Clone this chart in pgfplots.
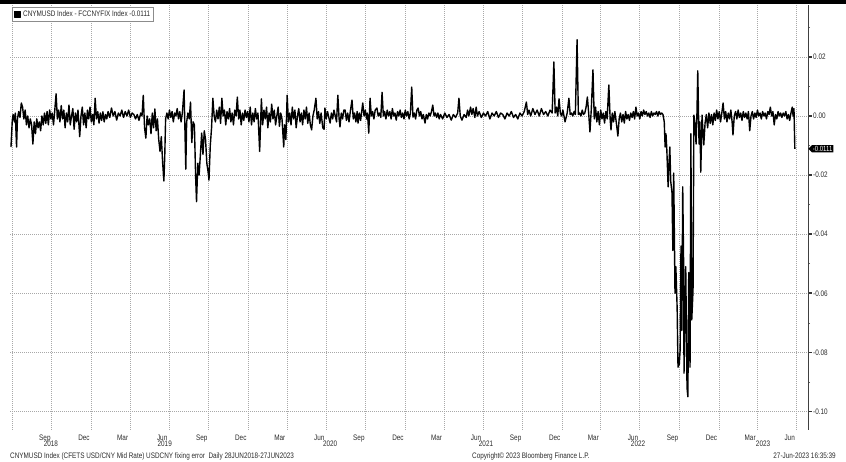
\documentclass[border=0pt]{standalone}
\usepackage{fontspec}
\setmainfont{Liberation Sans}[FakeStretch=0.8]
\usepackage{pgfplots}
\pgfplotsset{compat=1.18}
\usepackage{pgfplotstable}
\usetikzlibrary{shapes.symbols}
\definecolor{txt}{HTML}{2B2B2B}
\definecolor{grd}{HTML}{A8A8A8}

% d = days since 28 Jun 2018, v = CNYMUSD - FCCNYFIX
\pgfplotstableread{
d v
0 -0.0105
3 -0.0015
5 0.0005
8 -0.002
10 0.001
13 -0.0105
15 -0.001
18 0.0015
21 -0.0005
24 0.0044
27 0.003
30 -0.001
33 0.002
36 -0.003
39 0
42 -0.004
45 -0.001
48 -0.003
51 -0.0095
54 -0.002
57 -0.006
60 -0.001
63 -0.004
66 -0.002
69 -0.005
72 0
75 -0.003
78 0.001
81 -0.0025
84 0.0015
87 -0.003
90 0.002
93 -0.001
96 0.001
99 -0.003
102 0.002
105 0.0075
108 -0.001
111 0.002
114 -0.002
117 0.0035
120 -0.001
123 0.002
126 -0.004
129 0.001
132 -0.002
135 0.0037
138 -0.003
141 0
144 0.0025
147 -0.0045
150 0.001
153 -0.002
156 0.002
160 -0.007
163 0
166 0.003
169 -0.003
172 0.001
175 -0.004
178 0.002
181 -0.001
184 0.003
187 -0.002
190 0.0005
193 -0.003
196 0.006
199 -0.001
202 0.0015
205 -0.0024
208 0.001
211 -0.0015
214 0.0014
217 -0.002
220 0.0005
223 -0.001
226 0.0015
230 -0.0005
234 0.0027
238 0
242 0.0015
246 -0.0014
250 0.001
254 0
258 0.002
262 -0.0005
266 0.0015
270 0
274 0.002
278 -0.0005
282 0.001
286 0.0005
290 -0.001
294 0.0005
298 -0.0015
302 0.001
305 0
308 0.007
311 -0.004
314 -0.0075
317 0
320 -0.003
323 -0.001
326 -0.006
329 0.001
332 -0.004
335 0.0024
338 -0.005
341 -0.001
344 -0.008
347 -0.012
350 -0.007
353 -0.0156
356 -0.022
358 -0.0136
360 -0.001
363 0.001
366 -0.001
369 0.002
372 -0.0005
375 0.0015
378 -0.002
381 0.001
384 0
387 0.0025
390 -0.001
393 0.0015
396 -0.002
399 0.001
403 0.0088
407 -0.018
409 -0.002
412 0.001
415 -0.001
418 0.0047
421 -0.009
424 -0.002
427 -0.003
430 -0.021
432 -0.029
435 -0.016
438 -0.02
441 -0.013
444 -0.0058
447 -0.013
450 -0.005
453 -0.008
456 -0.016
459 -0.019
461 -0.0217
464 -0.01
467 -0.004
470 0.006
473 0
476 -0.002
479 0.002
482 -0.001
485 0.003
488 -0.0025
491 0.006
494 0
497 0.002
500 -0.003
503 0.0015
506 -0.001
509 0.0025
512 -0.002
515 0.001
518 -0.003
521 0.002
524 0
527 0.0064
530 -0.001
533 0.002
536 -0.003
539 0.001
542 -0.0015
545 0.002
548 -0.0005
551 0.0015
554 -0.002
557 0.003
560 -0.003
563 0.001
566 -0.002
569 0.0025
572 -0.001
575 0.001
579 -0.012
583 0.0058
586 -0.003
589 0.002
592 -0.001
595 0.003
598 -0.004
601 0.001
604 -0.002
607 0.004
610 -0.001
613 0.002
616 -0.003
619 0
622 0.003
625 -0.0035
628 0.001
631 -0.001
635 -0.0105
637 -0.003
640 -0.008
643 0.007
646 -0.002
649 0.001
652 -0.003
655 0.003
658 -0.001
661 0.002
664 -0.004
667 0
670 0.0025
673 -0.002
676 0.001
679 -0.003
682 0.002
685 -0.001
688 0.003
691 -0.0025
694 0.001
697 -0.003
700 -0.0047
703 0
706 0.002
710 0.006
713 -0.001
716 0.0015
719 -0.0025
722 0.001
726 -0.004
729 -0.0045
731 0.0027
734 -0.001
737 0.0015
740 -0.0005
743 -0.0024
746 0.001
749 -0.001
752 0.002
755 0
758 -0.002
761 0.007
764 -0.001
766 -0.0037
769 0.001
772 -0.001
775 0.002
778 0.002
781 -0.0015
784 0.001
787 -0.002
790 0.0015
794 0.0054
797 -0.001
800 0.001
803 -0.002
806 0.0015
808 -0.0024
811 0.001
814 -0.0015
817 0.002
819 0.0044
822 0
825 0.002
828 -0.001
830 0.001
833 -0.0058
836 0.006
839 0
842 0.0015
845 -0.001
848 0.002
852 0.0027
855 0
858 0.001
861 -0.0005
864 0.008
867 0
870 0.0015
873 -0.001
876 0.002
879 0
882 0.0015
885 -0.001
888 0.0025
891 0
894 0.001
897 -0.0014
900 0.0015
903 0
906 0.002
909 -0.0005
912 0.001
915 -0.001
918 0.002
921 0
924 0.0015
927 -0.001
930 0.001
933 0.0098
936 -0.0004
939 0.001
942 -0.001
945 0.002
948 0.0027
951 0
954 0.0015
957 -0.001
960 0.0005
964 -0.0024
967 0.0005
970 -0.001
973 0.001
976 0
979 0.0015
982 0.0037
985 0
988 0.001
991 -0.0005
994 0.001
997 -0.001
1000 0.0005
1005 -0.001
1010 0.001
1015 -0.0005
1020 0.0005
1025 -0.0014
1030 0.0005
1035 -0.0005
1040 0.001
1043 0.006
1046 0
1050 -0.0014
1055 0.0005
1060 -0.0005
1063 0.002
1066 0
1070 0.003
1073 0.0005
1076 0.0025
1080 -0.0005
1083 0.003
1086 0
1090 0.0015
1095 -0.0005
1100 0.001
1105 0
1110 0.0015
1115 -0.001
1120 0.001
1125 0
1130 0.0015
1135 -0.0005
1140 0.001
1145 0.0005
1150 -0.001
1155 0.001
1160 0
1165 0.0015
1170 -0.0005
1175 0.0005
1180 -0.001
1185 0.001
1190 0
1195 0.0015
1200 0.0047
1203 0.0005
1206 0.002
1210 0
1215 0.0025
1220 0.0005
1225 0.002
1230 0
1235 0.0025
1240 0.0005
1245 0.0015
1250 0
1255 0.002
1260 0.001
1264 0.0183
1267 0.001
1270 0.003
1273 0
1276 0.0058
1279 0.001
1282 0
1285 0.002
1290 -0.002
1295 0.001
1299 0.006
1302 0.0005
1305 0.001
1308 0
1311 0.0015
1314 0.0005
1318 0.0258
1321 0.0005
1324 0.001
1327 0
1330 0.002
1333 0.0005
1336 0.001
1339 0.003
1342 0.0064
1345 0.001
1348 -0.0054
1351 0.002
1355 0.0156
1358 -0.001
1361 0.003
1364 -0.002
1367 0.0015
1370 -0.003
1373 0.002
1376 -0.001
1379 0.001
1382 -0.0024
1385 0.0015
1388 -0.001
1392 0.0105
1395 -0.001
1397 -0.0047
1400 0.001
1403 -0.002
1406 0.0015
1410 -0.003
1413 -0.0068
1416 -0.001
1419 0.001
1422 -0.002
1425 0.0005
1428 -0.0024
1431 0.0015
1434 -0.001
1437 0.0005
1440 -0.0015
1443 0.001
1446 -0.0005
1449 0.0015
1452 -0.001
1455 0.003
1458 0
1461 0.001
1464 -0.001
1467 0.0015
1470 0
1473 0.002
1476 0.0005
1479 0.0015
1482 0
1485 0.001
1488 -0.0005
1491 0.0015
1494 0
1497 0.001
1500 0.0005
1503 0.0015
1506 0
1509 0.0015
1512 0.0005
1515 0.001
1518 0.0005
1521 -0.002
1523 -0.0105
1525 -0.006
1527 -0.0115
1530 -0.024
1532 -0.016
1534 -0.0105
1536 -0.022
1539 -0.026
1541 -0.0455
1543 -0.0193
1546 -0.06
1548 -0.051
1551 -0.065
1553 -0.085
1556 -0.084
1558 -0.079
1560 -0.044
1562 -0.0725
1564 -0.024
1566 -0.049
1567 -0.087
1569 -0.07
1571 -0.051
1574 -0.092
1576 -0.095
1578 -0.053
1581 -0.085
1583 -0.006
1585 -0.069
1588 -0.059
1590 0.0003
1593 -0.003
1595 -0.0095
1597 0
1599 0.0153
1602 -0.0095
1604 -0.002
1606 -0.019
1609 0.0003
1611 -0.005
1613 -0.0098
1616 -0.0024
1619 0.0005
1622 -0.004
1625 0.001
1628 -0.0025
1631 0.0005
1634 -0.003
1637 0.001
1640 -0.0015
1643 0.002
1646 -0.001
1649 0.0015
1652 -0.002
1655 0.001
1658 0.0044
1661 -0.001
1664 0.0015
1667 -0.002
1670 0.001
1673 -0.001
1676 0.002
1679 -0.002
1681 -0.0064
1684 0
1687 0.0015
1690 -0.001
1693 0.002
1696 -0.0005
1699 0.001
1702 -0.0015
1705 0.0015
1708 -0.0005
1711 0.001
1714 -0.001
1717 0.0015
1720 -0.005
1723 0
1726 0.0015
1729 -0.001
1732 0.001
1735 -0.0005
1738 0.002
1741 0
1744 0.001
1747 -0.001
1750 0.0015
1753 0
1756 0.001
1759 -0.001
1762 0.0015
1765 0.0005
1768 0.003
1771 0
1774 0.0015
1777 -0.003
1780 0.0005
1783 -0.001
1786 0.0015
1789 0
1792 0.001
1795 -0.0005
1798 0.001
1801 0
1804 0.0015
1807 -0.001
1810 0.0005
1813 -0.0015
1816 0.001
1819 0.003
1821 0
1823 0.0025
1825 -0.0111
}\fixerr

\begin{document}
\begin{tikzpicture}[x=1bp,y=1bp]
\useasboundingbox (0,0) rectangle (846,462);
\fill[black] (0,458) rectangle (846,462);
\begin{axis}[
  at={(10bp,32bp)}, anchor=south west,
  scale only axis, width=798bp, height=425bp,
  xmin=-2.3, xmax=1855.7, ymin=-0.10626, ymax=0.03756,
  clip=false,
  axis x line*=bottom, axis y line*=right,
  x axis line style={draw=none},
  y axis line style={draw=black!75, line width=0.8bp},
  xtick={79,170,260,352,444,535,626,718,810,901,991,1083,1175,1266,1356,1448,1540,1631,1721,1813},
  xticklabels={Sep,Dec,Mar,Jun,Sep,Dec,Mar,Jun,Sep,Dec,Mar,Jun,Sep,Dec,Mar,Jun,Sep,Dec,Mar,Jun},
  minor xtick={3,95,187,277,368,460,552,643,734,826,918,1008,1099,1191,1283,1373,1464,1556,1648,1738,1829},
  major x tick style={draw=none}, minor x tick style={draw=none},
  xminorgrids=true, xmajorgrids=false,
  extra x ticks={93,358,743,1106,1460,1751},
  extra x tick labels={2018,2019,2020,2021,2022,2023},
  extra x tick style={grid=none, major tick length=0pt, xticklabel style={yshift=-10bp}},
  ytick={-0.1,-0.08,-0.06,-0.04,-0.02,0,0.02},
  yticklabels={-0.10,-0.08,-0.06,-0.04,-0.02,0.00,0.02},
  minor ytick={-0.09,-0.07,-0.05,-0.03,-0.01,0.01,0.03},
  ymajorgrids=true,
  major grid style={grd, line width=0.6bp, dash pattern=on 1bp off 1bp},
  minor grid style={grd, line width=0.6bp, dash pattern=on 1bp off 1bp},
  tick align=outside,
  major tick length=3.5bp, minor tick length=2bp,
  major y tick style={black!80, line width=1.6bp},
  minor y tick style={black!60, line width=0.5bp},
  tick label style={font=\fontsize{8}{9}\selectfont, text=txt},
  xticklabel style={inner sep=1bp, anchor=north},
  yticklabel style={inner sep=1.5bp, anchor=west},
  legend style={at={(0.0025,0.9953)}, anchor=north west, draw=black!45, line width=0.6bp,
    fill=white, inner sep=1.5bp, font=\fontsize{8}{9}\selectfont, text=txt,
    legend cell align=left},
  legend image code/.code={\fill[black] (0bp,-3bp) rectangle (6bp,3bp);},
]
\addplot[black, line width=1.4bp, line join=round, no marks] table[x=d, y=v]{\fixerr};
\addlegendentry{CNYMUSD Index - FCCNYFIX Index -0.0111}
\node[signal, signal to=west, fill=black, text=white, font=\fontsize{7.5}{8}\selectfont,
  inner sep=1bp, anchor=west] at (axis cs:1855.7,-0.0111) {-0.0111};
\end{axis}
\node[anchor=west, font=\fontsize{8}{9}\selectfont, text=txt, inner sep=0pt] at (10,6)
  {CNYMUSD Index (CFETS USD/CNY Mid Rate) USDCNY fixing error\ \ Daily 28JUN2018-27JUN2023};
\node[anchor=west, font=\fontsize{8}{9}\selectfont, text=txt, inner sep=0pt] at (472,6)
  {Copyright\textcopyright{} 2023 Bloomberg Finance L.P.};
\node[anchor=east, font=\fontsize{8}{9}\selectfont, text=txt, inner sep=0pt] at (836,6)
  {27-Jun-2023 16:35:39};
\end{tikzpicture}
\end{document}
